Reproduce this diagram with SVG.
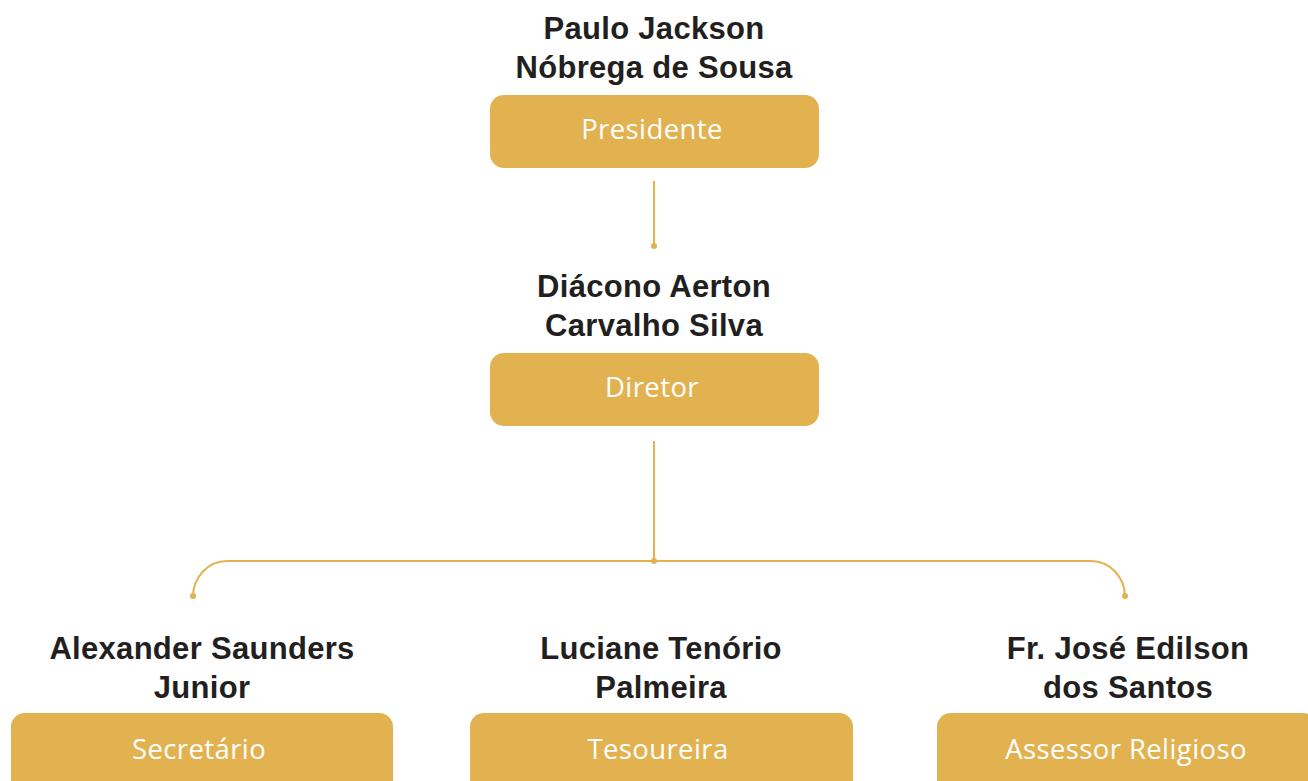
<svg xmlns="http://www.w3.org/2000/svg" width="1308" height="781" viewBox="0 0 1308 781">
<style>
.box{fill:#E2B251}
.name{font-family:"Liberation Sans",Arial,sans-serif;font-weight:bold;font-size:31px;letter-spacing:0.3px;fill:#231F20;text-anchor:middle}
.role{font-family:"Open Sans","Liberation Sans",sans-serif;font-weight:400;font-size:27.5px;letter-spacing:0.4px;fill:#FFFFFF;text-anchor:middle}
.conn{fill:none;stroke:#E2B251;stroke-width:2}
.dot{fill:#E2B251}
</style>
<rect width="1308" height="781" fill="#FFFFFF"/>
<g id="connectors">
<line class="conn" x1="654" y1="181" x2="654" y2="246"/>
<circle class="dot" cx="654" cy="246" r="3"/>
<line class="conn" x1="654" y1="441" x2="654" y2="561"/>
<path class="conn" d="M193 597 A34 36 0 0 1 227 561 L1091 561 A34 36 0 0 1 1125 597"/>
<circle class="dot" cx="654" cy="561" r="3"/>
<circle class="dot" cx="193" cy="596" r="3"/>
<circle class="dot" cx="1125" cy="596" r="3"/>
</g>
<g id="presidente">
<text class="name" x="654" y="39">Paulo Jackson</text>
<text class="name" x="654" y="78">Nóbrega de Sousa</text>
<rect class="box" x="490" y="95" width="329" height="73" rx="14"/>
<text class="role" x="652" y="139">Presidente</text>
</g>
<g id="diretor">
<text class="name" x="654" y="297">Diácono Aerton</text>
<text class="name" x="654" y="336">Carvalho Silva</text>
<rect class="box" x="490" y="353" width="329" height="73" rx="14"/>
<text class="role" x="652" y="397">Diretor</text>
</g>
<g id="secretario">
<text class="name" x="202" y="659">Alexander Saunders</text>
<text class="name" x="202" y="698">Junior</text>
<rect class="box" x="11" y="713" width="382" height="90" rx="14"/>
<text class="role" x="199" y="759">Secretário</text>
</g>
<g id="tesoureira">
<text class="name" x="661" y="659">Luciane Tenório</text>
<text class="name" x="661" y="698">Palmeira</text>
<rect class="box" x="470" y="713" width="383" height="90" rx="14"/>
<text class="role" x="658" y="759">Tesoureira</text>
</g>
<g id="assessor">
<text class="name" x="1128" y="659">Fr. José Edilson</text>
<text class="name" x="1128" y="698">dos Santos</text>
<rect class="box" x="937" y="713" width="380" height="90" rx="14"/>
<text class="role" x="1126" y="759">Assessor Religioso</text>
</g>
</svg>
